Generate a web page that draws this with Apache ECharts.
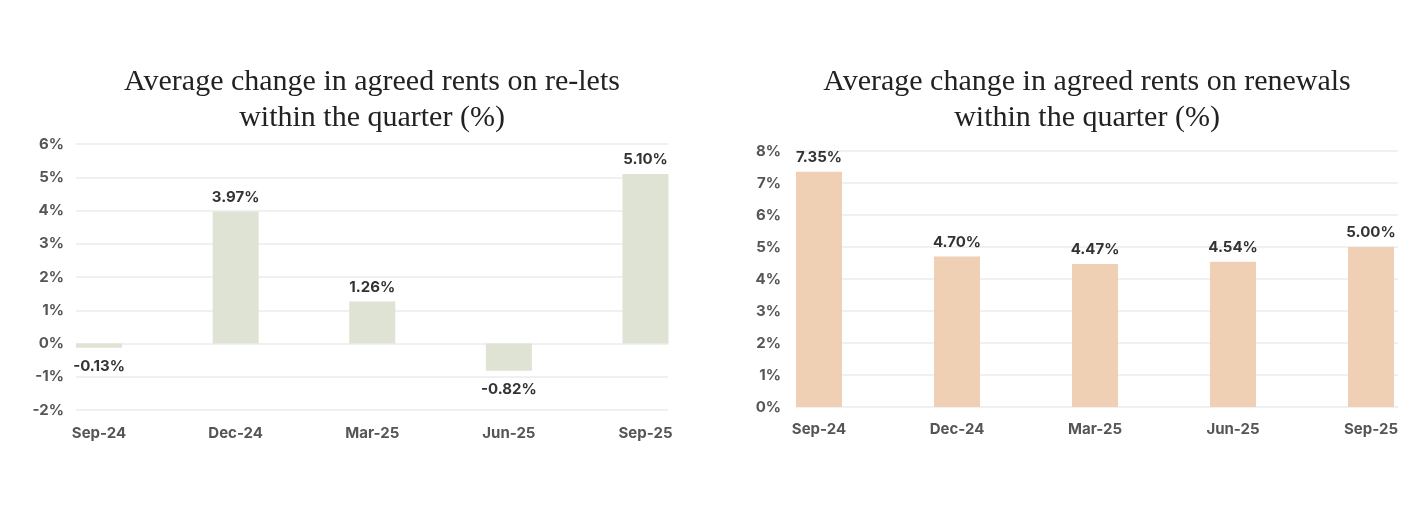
<!DOCTYPE html>
<html>
<head>
<meta charset="utf-8">
<script src="https://cdn.jsdelivr.net/npm/echarts@6/dist/echarts.min.js"></script>
<style>
html,body{margin:0;padding:0;background:#fff;}
#c{width:1408px;height:522px;}
</style>
</head>
<body>
<div id="c"></div>
<script>
const categories = ['Sep-24','Dec-24','Mar-25','Jun-25','Sep-25'];
const reletValues = [-0.13, 3.97, 1.26, -0.82, 5.10];
const renewalValues = [7.35, 4.70, 4.47, 4.54, 5.00];
const reletTitle = 'Average change in agreed rents on re-lets\nwithin the quarter (%)';
const renewalTitle = 'Average change in agreed rents on renewals\nwithin the quarter (%)';

const labelFont = 'Inter, "Open Sans", sans-serif';
const axisLabelStyle = {fontFamily: labelFont, fontWeight: 700, fontSize: 15, color: '#555'};
const splitLineStyle = {show: true, lineStyle: {color: '#ebebeb', width: 1.5}};
const titleStyle = {fontFamily: '"Liberation Serif", serif', fontWeight: 400, fontSize: 30, color: '#222', lineHeight: 36};

function barData(values){
  return values.map(v => ({
    value: v,
    label: {position: v < 0 ? 'bottom' : 'top', distance: v < 0 ? 11 : 7}
  }));
}

const chart = echarts.init(document.getElementById('c'), null, {renderer: 'canvas'});
chart.setOption({
  backgroundColor: '#fff',
  animation: false,
  title: [
    {text: reletTitle, left: 367, top: 59, textAlign: 'center', textStyle: titleStyle},
    {text: renewalTitle, left: 1082, top: 59, textAlign: 'center', textStyle: titleStyle}
  ],
  grid: [
    {left: 76, width: 592, top: 144, height: 266},
    {left: 99, width: 546.5, top: 144, height: 266},
    {left: 796, width: 602, top: 151, height: 256},
    {left: 819, width: 552, top: 151, height: 256}
  ],
  xAxis: [
    {gridIndex: 0, type: 'category', data: categories, show: false},
    {gridIndex: 1, type: 'category', data: categories, boundaryGap: false,
     axisLine: {show: false}, axisTick: {show: false},
     axisLabel: Object.assign({margin: 16}, axisLabelStyle)},
    {gridIndex: 2, type: 'category', data: categories, show: false},
    {gridIndex: 3, type: 'category', data: categories, boundaryGap: false,
     axisLine: {show: false}, axisTick: {show: false},
     axisLabel: Object.assign({margin: 15}, axisLabelStyle)}
  ],
  yAxis: [
    {gridIndex: 0, type: 'value', min: -2, max: 6, interval: 1,
     axisLine: {show: false}, axisTick: {show: false},
     axisLabel: Object.assign({margin: 12, formatter: '{value}%'}, axisLabelStyle),
     splitLine: splitLineStyle},
    {gridIndex: 1, type: 'value', min: -2, max: 6, interval: 1, show: false, splitLine: {show: false}},
    {gridIndex: 2, type: 'value', min: 0, max: 8, interval: 1,
     axisLine: {show: false}, axisTick: {show: false},
     axisLabel: Object.assign({margin: 15, formatter: '{value}%'}, axisLabelStyle),
     splitLine: splitLineStyle},
    {gridIndex: 3, type: 'value', min: 0, max: 8, interval: 1, show: false, splitLine: {show: false}}
  ],
  series: [
    {type: 'bar', xAxisIndex: 1, yAxisIndex: 1, data: barData(reletValues), barWidth: 46, clip: false,
     itemStyle: {color: '#dee3d4'},
     label: {show: true, formatter: p => p.value.toFixed(2) + '%', fontFamily: labelFont, fontWeight: 700, fontSize: 15, color: '#333'}},
    {type: 'bar', xAxisIndex: 3, yAxisIndex: 3, data: barData(renewalValues), barWidth: 46, clip: false,
     itemStyle: {color: '#f0d0b4'},
     label: {show: true, formatter: p => p.value.toFixed(2) + '%', fontFamily: labelFont, fontWeight: 700, fontSize: 15, color: '#333'}}
  ]
});
</script>
</body>
</html>
